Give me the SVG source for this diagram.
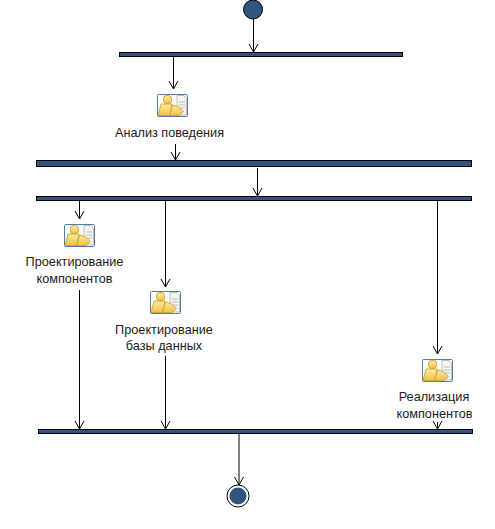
<svg xmlns="http://www.w3.org/2000/svg" xmlns:xlink="http://www.w3.org/1999/xlink" width="495" height="529" viewBox="0 0 495 529">
<style>
text{font-family:"Liberation Sans",Arial,sans-serif;font-size:12.7px;fill:#1a1a1a;text-anchor:middle}
.bar{fill:#2f5580;stroke:#000;stroke-width:1}
.c{fill:none;stroke:#000;stroke-width:1;marker-end:url(#a)}
</style>
<defs>
<marker id="a" markerUnits="userSpaceOnUse" markerWidth="10" markerHeight="12" refX="9" refY="6" orient="auto" viewBox="0 0 10 12"><path d="M1 1.500 L9 6 L1 10.500" fill="none" stroke="#000" stroke-width="1"/></marker>
<linearGradient id="y" x1="0" y1="0" x2="0" y2="1"><stop offset="0" stop-color="#ffeb9c"/><stop offset="1" stop-color="#f2c04a"/></linearGradient>
<g id="ic">
<rect x="0.500" y="0.500" width="30" height="22" rx="1" fill="#fdfdfa" stroke="#4f7fa8"/>
<path d="M20 1.500H27L29.500 4.500V21H20Z" fill="#f4f4f0" stroke="#a8a8a0" stroke-width=".7"/>
<path d="M22 8H28M22 11H28M22 14H28" stroke="#a8a8a0" stroke-width=".7"/>
<rect x="6.500" y="1.500" width="8" height="8" rx="3" fill="url(#y)" stroke="#c29a30" stroke-width=".8"/>
<path d="M4 10H15L13 21.500H1Z" fill="url(#y)" stroke="#c29a30" stroke-width=".8"/>
<path d="M15.500 11L21 12.500L26.500 17.500L22 21.500H12.500Z" fill="url(#y)" stroke="#c29a30" stroke-width=".8"/>
</g>
</defs>
<rect width="495" height="529" fill="#fff"/>
<g id="connectors">
<path class="c" d="M253.500 19V52"/>
<path class="c" d="M173.500 56V89"/>
<path class="c" d="M175.500 144V160"/>
<path class="c" d="M257.500 168V196"/>
<path class="c" d="M79.500 201V219"/>
<path class="c" d="M165.500 201V287"/>
<path class="c" d="M437.500 201V354"/>
<path class="c" d="M79.500 290V429"/>
<path class="c" d="M165.500 356V429"/>
<path class="c" d="M437.500 422V429"/>
<path class="c" d="M239 434V485"/>
</g>
<g id="start"><circle cx="253" cy="9.500" r="9.500" fill="#2f5580" stroke="#000"/></g>
<g id="fork1"><rect class="bar" x="119.500" y="52.500" width="283" height="4"/></g>
<g id="analysis"><use xlink:href="#ic" href="#ic" x="157" y="94"/><text x="169.500" y="137">Анализ поведения</text></g>
<g id="join1"><rect class="bar" x="36.500" y="160.500" width="435" height="6"/></g>
<g id="fork2"><rect class="bar" x="36.500" y="196.500" width="435" height="4"/></g>
<g id="design-components"><use xlink:href="#ic" href="#ic" x="64" y="224"/><text x="74.500" y="266">Проектирование</text><text x="74.500" y="283">компонентов</text></g>
<g id="design-db"><use xlink:href="#ic" href="#ic" x="150" y="291"/><text x="164" y="334">Проектирование</text><text x="164" y="350">базы данных</text></g>
<g id="implementation"><use xlink:href="#ic" href="#ic" x="422" y="359"/><text x="434" y="401">Реализация</text><text x="434.500" y="418">компонентов</text></g>
<g id="join2"><rect class="bar" x="38.500" y="429.500" width="434" height="4"/></g>
<g id="end"><circle cx="238" cy="496" r="11" fill="#fff" stroke="#000"/><circle cx="238" cy="496" r="8.500" fill="#2f5580"/></g>
</svg>
